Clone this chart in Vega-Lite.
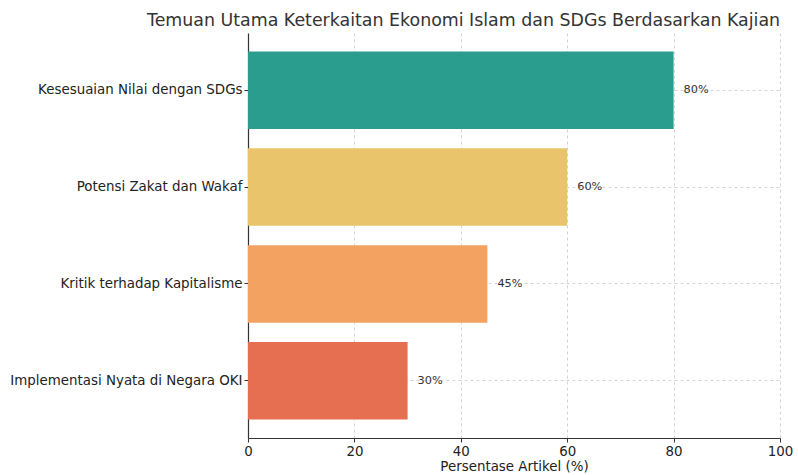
{
  "$schema": "https://vega.github.io/schema/vega-lite/v6.json",
  "autosize": "none",
  "width": 532,
  "height": 405,
  "padding": {"left": 248, "top": 33, "right": 18, "bottom": 37},
  "background": "white",
  "config": {
    "font": "DejaVu Sans",
    "view": {"stroke": null},
    "axis": {
      "grid": true,
      "gridDash": [3, 3],
      "gridColor": "#b0b0b0",
      "gridOpacity": 0.7,
      "gridWidth": 0.8,
      "domainColor": "#333333",
      "domainWidth": 1.2,
      "tickColor": "#333333",
      "tickSize": 4,
      "labelColor": "#222222",
      "labelFontSize": 13.4,
      "titleFontSize": 13.4,
      "titleFontWeight": "normal",
      "titleColor": "#222222",
      "zindex": 1
    }
  },
  "title": {
    "text": "Temuan Utama Keterkaitan Ekonomi Islam dan SDGs Berdasarkan Kajian",
    "fontSize": 17.4,
    "fontWeight": "normal",
    "color": "#333333",
    "anchor": "start",
    "frame": "group",
    "dx": -101,
    "offset": 4
  },
  "data": {
    "values": [
      {"temuan": "Kesesuaian Nilai dengan SDGs", "persen": 80, "label": "80%"},
      {"temuan": "Potensi Zakat dan Wakaf", "persen": 60, "label": "60%"},
      {"temuan": "Kritik terhadap Kapitalisme", "persen": 45, "label": "45%"},
      {"temuan": "Implementasi Nyata di Negara OKI", "persen": 30, "label": "30%"}
    ]
  },
  "encoding": {
    "y": {
      "field": "temuan",
      "type": "nominal",
      "sort": null,
      "title": null,
      "scale": {"paddingInner": 0.2, "paddingOuter": 0.19},
      "axis": {"labelPadding": 2, "labelLimit": 300, "grid": true, "bandPosition": 0.5}
    },
    "x": {
      "field": "persen",
      "type": "quantitative",
      "title": "Persentase Artikel (%)",
      "scale": {"domain": [0, 100], "nice": false},
      "axis": {"values": [0, 20, 40, 60, 80, 100], "labelFlush": false, "labelPadding": 2, "titlePadding": 2}
    }
  },
  "layer": [
    {
      "mark": {"type": "bar"},
      "encoding": {
        "color": {
          "field": "temuan",
          "type": "nominal",
          "legend": null,
          "scale": {
            "domain": ["Kesesuaian Nilai dengan SDGs", "Potensi Zakat dan Wakaf", "Kritik terhadap Kapitalisme", "Implementasi Nyata di Negara OKI"],
            "range": ["#2a9d8f", "#e9c46a", "#f4a261", "#e76f51"]
          }
        }
      }
    },
    {
      "mark": {"type": "text", "align": "left", "baseline": "middle", "dx": 10, "fontSize": 11.3, "color": "#333333"},
      "encoding": {
        "text": {"field": "label", "type": "nominal"}
      }
    }
  ]
}
